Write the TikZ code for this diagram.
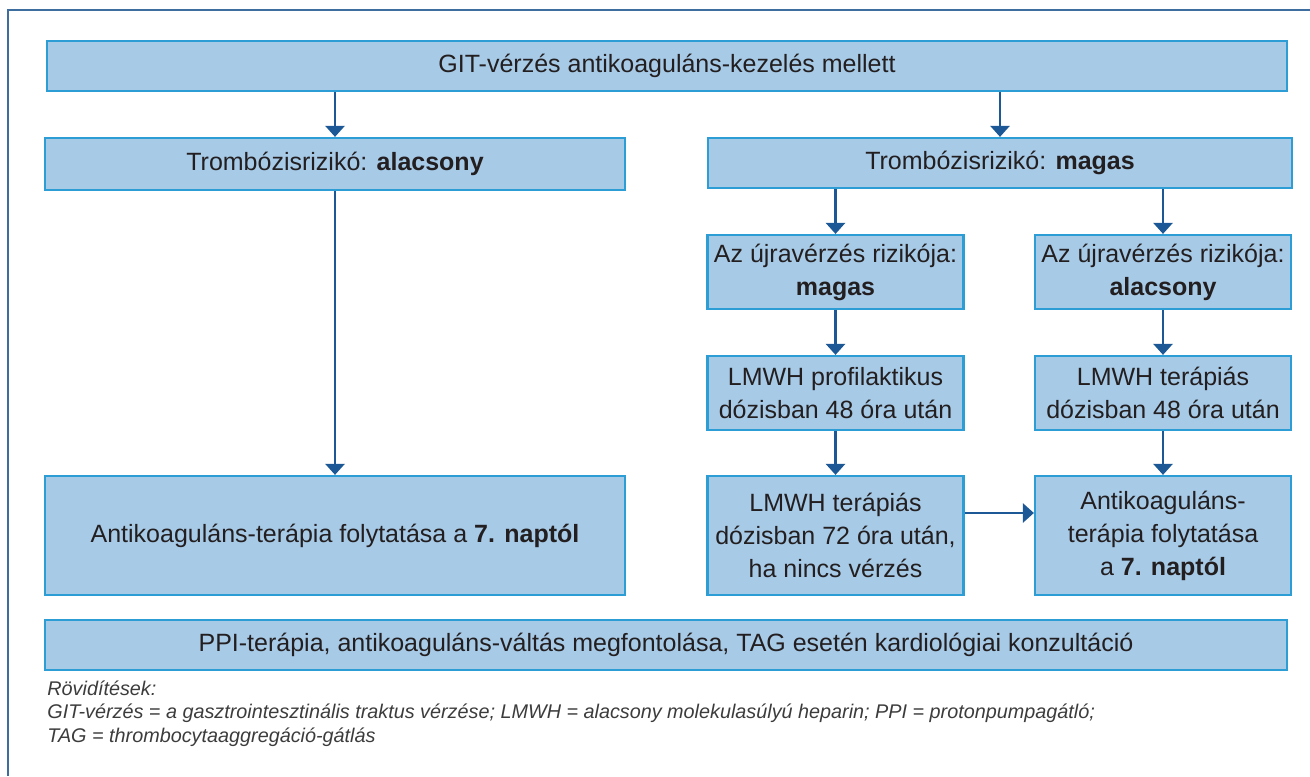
\documentclass[tikz,border=0pt]{standalone}
\usepackage{fontspec}
\setmainfont{Liberation Sans}
\usetikzlibrary{arrows.meta}
\usetikzlibrary{positioning}
\definecolor{boxfill}{RGB}{167,202,231}
\definecolor{boxline}{RGB}{45,157,214}
\definecolor{arrowblue}{RGB}{29,88,150}
\definecolor{framecol}{RGB}{62,110,160}
\definecolor{txtcol}{RGB}{35,31,32}
\definecolor{notecol}{RGB}{60,60,60}
\tikzset{
  flowbox/.style={rectangle, draw=boxline, fill=boxfill, line width=1.1pt,
    text=txtcol, font=\fontsize{12.5pt}{16.5pt}\selectfont, align=center,
    inner sep=0pt},
  subbox/.style={flowbox, minimum width=128pt, minimum height=37pt},
  tallbox/.style={flowbox, minimum height=59.5pt},
  flow/.style={draw=arrowblue, line width=1.3pt, -{Triangle[length=5.5pt,width=9.5pt]}},
}

\begin{document}
\begin{tikzpicture}[x=0.5pt, y=-0.5pt,
	note/.style={anchor=base west, inner sep=0pt, text=notecol,
	  font=\fontsize{9.9pt}{11pt}\selectfont\itshape}]
	\useasboundingbox (0,0) rectangle (1310,776);
	
	% frame
	\draw[framecol, line width=0.8pt] (8,776) -- (8,10) -- (1310,10);
	
	% boxes
	\node[flowbox, minimum width=620pt, minimum height=25pt] (git) at (667,66)
	  {GIT-vérzés antikoaguláns-kezelés mellett};
	\node[flowbox, minimum width=290pt, minimum height=26pt] (lowrisk) at (335,164)
	  {Trombózisrizikó: \textbf{alacsony}};
	\node[flowbox, minimum width=292pt, minimum height=25pt] (highrisk) at (1000,163)
	  {Trombózisrizikó: \textbf{magas}};
	\node[subbox] (rbhigh) at (835.5,272) {Az újravérzés rizikója:\\ \textbf{magas}};
	\node[subbox] (rblow) at (1163,272) {Az újravérzés rizikója:\\ \textbf{alacsony}};
	\node[subbox] (proph) at (835.5,393) {LMWH profilaktikus\\ dózisban 48 óra után};
	\node[subbox] (ther48) at (1163,393) {LMWH terápiás\\ dózisban 48 óra után};
	\node[tallbox, minimum width=128pt] (ther72) at (835.5,535.5)
	  {LMWH terápiás\\ dózisban 72 óra után,\\ ha nincs vérzés};
	\node[tallbox, minimum width=128pt] (contR) at (1163,535.5)
	  {Antikoaguláns-\\ terápia folytatása\\ a \textbf{7. naptól}};
	\node[tallbox, minimum width=290pt] (contL) at (335,535.5)
	  {Antikoaguláns-terápia folytatása a \textbf{7. naptól}};
	\node[flowbox, minimum width=621pt, minimum height=25pt] (ppi) at (666,645)
	  {PPI-terápia, antikoaguláns-váltás megfontolása, TAG esetén kardiológiai konzultáció};
	
	% arrows
	\draw[flow] (lowrisk.north |- git.south) -- (lowrisk.north);
	\draw[flow] (highrisk.north |- git.south) -- (highrisk.north);
	\draw[flow] (lowrisk) -- (contL);
	\draw[flow] (rbhigh.north |- highrisk.south) -- (rbhigh.north);
	\draw[flow] (rblow.north |- highrisk.south) -- (rblow.north);
	\draw[flow] (rbhigh) -- (proph);
	\draw[flow] (rblow) -- (ther48);
	\draw[flow] (proph) -- (ther72);
	\draw[flow] (ther48) -- (contR);
	\draw[flow] ([yshift=11.25pt]ther72.east) -- ([yshift=11.25pt]contR.west);
	
	% abbreviations
	\node[note] (abbr) at (47,695) {Rövidítések:};
	\node[note] (abbr1) at (47,718) {GIT-vérzés = a gasztrointesztinális traktus vérzése; LMWH = alacsony molekulasúlyú heparin; PPI = protonpumpagátló;};
	\node[note] (abbr2) at (47,742) {TAG = thrombocytaaggregáció-gátlás};
\end{tikzpicture}
\end{document}
